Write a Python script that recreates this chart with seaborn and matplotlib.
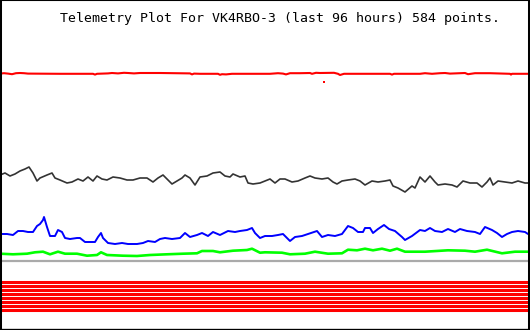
import matplotlib
matplotlib.use("Agg")
import matplotlib.pyplot as plt
import seaborn as sns
import pandas as pd

# ---- data (arbitrary plot units; x = sample column, y = plotted level) ----
title = "Telemetry Plot For VK4RBO-3 (last 96 hours) 584 points."

t_red = [0, 4, 8, 12, 16, 20, 24, 28, 60, 93, 95, 97, 108, 112, 118, 124, 128, 134, 140,
         160, 190, 192, 194, 200, 218, 220, 222, 226, 232, 265, 270, 278, 283, 286, 290,
         300, 310, 312, 316, 320, 334, 338, 340, 344, 348, 390, 392, 394, 420, 425, 432,
         440, 445, 450, 460, 465, 468, 475, 490, 510, 511, 512, 528]
v_red = [73.6, 73.2, 73.6, 74.2, 73.2, 73, 73.2, 73.6, 73.8, 73.8, 74.6, 73.8, 73.4, 73, 73.4, 72.8, 73, 73.4, 73,
         73, 73.4, 74.4, 73.6, 73.8, 73.8, 74.8, 74.2, 74.4, 73.8, 73.8, 73.8, 73.2, 73.6, 74.4, 73.2,
         73.2, 73, 73.8, 72.8, 73, 72.8, 73.8, 75, 73.8, 73.8, 73.8, 74.6, 73.8, 73.8, 73.2, 73.8,
         73.2, 73, 73.6, 73.2, 73, 74.2, 73.2, 73.2, 73.8, 74.6, 73.8, 73.8]
t_red_dot = [324]
v_red_dot = [81.5]

t_black = [0, 5, 10, 15, 20, 25, 29, 33, 37, 40, 47, 52, 55, 60, 67, 72, 78, 83, 88, 93,
           97, 102, 107, 113, 120, 127, 133, 140, 147, 153, 158, 163, 168, 172, 177, 182, 185, 190, 195, 200,
           207, 213, 220, 225, 230, 233, 240, 245, 248, 253, 260, 265,
           270, 275, 280, 285, 292, 298, 305, 310, 315, 322, 328, 333, 337, 342, 348, 355, 360, 365,
           372, 378, 385, 390, 393, 398, 405, 412, 415, 420, 425, 430, 435, 438, 445, 452, 457, 463,
           470, 477, 482, 487, 490, 493, 498, 505, 512, 518, 525, 528]
v_black = [175, 173, 176, 174, 171, 169, 167, 173, 181, 178, 175, 173, 178, 180, 183, 182, 179, 181, 177, 181,
           176, 179, 180, 177, 178, 180, 180, 178, 178, 182, 178, 175, 180, 184, 181, 178, 175, 178, 185, 177,
           176, 173, 172, 176, 177, 174, 177, 176, 183, 184, 183, 181,
           179, 183, 179, 179, 182, 181, 178, 176, 178, 179, 178, 182, 184, 181, 180, 179, 181, 185,
           181, 182, 181, 180, 186, 188, 192, 186, 188, 177, 182, 176, 182, 185, 184, 185, 187, 181,
           183, 183, 187, 182, 178, 185, 181, 182, 183, 181, 183, 183]

t_blue = [0, 7, 13, 18, 23, 28, 33, 37, 40, 43, 44, 47, 50, 55, 58, 62, 65, 70, 77, 80,
          85, 90, 95, 98, 101, 103, 108, 115, 122, 128, 137, 143, 148, 155, 160, 165, 172, 180, 185, 190,
          197, 202, 208, 213, 220, 228, 235, 240, 247, 252, 255, 260, 265,
          272, 278, 283, 287, 290, 295, 302, 308, 317, 322, 328, 335, 342, 345, 348, 353, 358, 363,
          365, 370, 373, 378, 384, 389, 395, 402, 405, 412, 420, 425, 430, 435, 442, 448, 455, 460,
          467, 475, 480, 485, 492, 497, 502, 507, 512, 518, 525, 528]
v_blue = [234, 234, 235, 231, 231, 232, 232, 226, 224, 220, 217, 227, 236, 236, 230, 232, 238, 239, 238, 238,
          242, 242, 242, 237, 233, 238, 243, 244, 243, 244, 244, 243, 241, 242, 239, 238, 239, 238, 233, 237,
          235, 233, 236, 232, 235, 231, 232, 231, 230, 228, 233, 238, 236,
          236, 235, 234, 238, 241, 237, 236, 234, 231, 237, 235, 236, 234, 230, 226, 228, 232, 232,
          228, 228, 233, 229, 225, 229, 231, 237, 240, 236, 230, 231, 228, 231, 232, 229, 232, 229,
          231, 232, 234, 227, 230, 233, 237, 234, 232, 231, 232, 234]

t_green = [0, 13, 27, 35, 43, 50, 58, 65, 77, 87, 97, 101, 107, 123, 137, 150, 167, 183, 197, 202,
           213, 220, 233, 247, 252, 260, 265,
           282, 290, 305, 315, 328, 342, 348, 357, 365, 373, 382, 390, 397, 405, 425, 448, 465, 475,
           487, 502, 515, 530]
v_green = [253.7, 254.3, 253.7, 252.3, 251.7, 254.3, 251.7, 253.7, 253.7, 255.7, 255, 252.3, 255, 255.7,
           256, 255, 254.3, 253.7, 253.3, 251, 251, 252.3, 250.7, 250, 248.7, 252.7, 252.3,
           252.7, 254.3, 253.7, 251.7, 253.7, 253.3, 249.7, 250.3, 248.7, 250.3, 248.7, 250.7, 248.7,
           251.7, 251.7, 250.3, 250.7, 251.7, 249.7, 253.3, 251.7, 251.7]

t_gray = [0, 530]
v_gray = [260.7, 260.7]

# digital channels (all on), one level each
bit_levels = [281.8, 285.8, 289.8, 293.8, 297.8, 301.8, 305.8, 309.6]
t_bits = [0, 528]

# ---- plot ----
sns.set_style("white")
fig = plt.figure(figsize=(5.3, 3.3), dpi=100)
ax = fig.add_axes([0, 0, 1, 1])

sns.lineplot(x=t_red, y=v_red, color="#ff0000", linewidth=1.5, ax=ax)
sns.scatterplot(x=t_red_dot, y=v_red_dot, color="#ff0000", marker="s", s=2, linewidth=0, ax=ax)
sns.lineplot(x=t_black, y=v_black, color="#333333", linewidth=1.2, ax=ax)
sns.lineplot(x=t_blue, y=v_blue, color="#0000ff", linewidth=1.4, ax=ax)
sns.lineplot(x=t_green, y=v_green, color="#00ff00", linewidth=1.9, ax=ax)
sns.lineplot(x=t_gray, y=v_gray, color="#aaaaaa", linewidth=1.6, ax=ax)

bits_df = pd.DataFrame({
    "t": [t for lvl in bit_levels for t in t_bits],
    "v": [lvl for lvl in bit_levels for t in t_bits],
    "ch": [i for i, lvl in enumerate(bit_levels) for t in t_bits],
})
sns.lineplot(data=bits_df, x="t", y="v", units="ch", estimator=None,
             color="#ff0000", linewidth=2.2, ax=ax, legend=False)

ax.set_xlim(0, 530)
ax.set_ylim(330, 0)
ax.set_xticks([])
ax.set_yticks([])
ax.set_xlabel("")
ax.set_ylabel("")
for side, lw in (("left", 2.9), ("right", 2.9), ("bottom", 2.4), ("top", 1.5)):
    ax.spines[side].set_visible(True)
    ax.spines[side].set_color("black")
    ax.spines[side].set_linewidth(lw)

ax.text(60, 21.7, title, family="DejaVu Sans Mono", fontsize=9.5,
        color="black", ha="left", va="baseline")

fig.savefig("out.png", dpi=100, facecolor="white")
